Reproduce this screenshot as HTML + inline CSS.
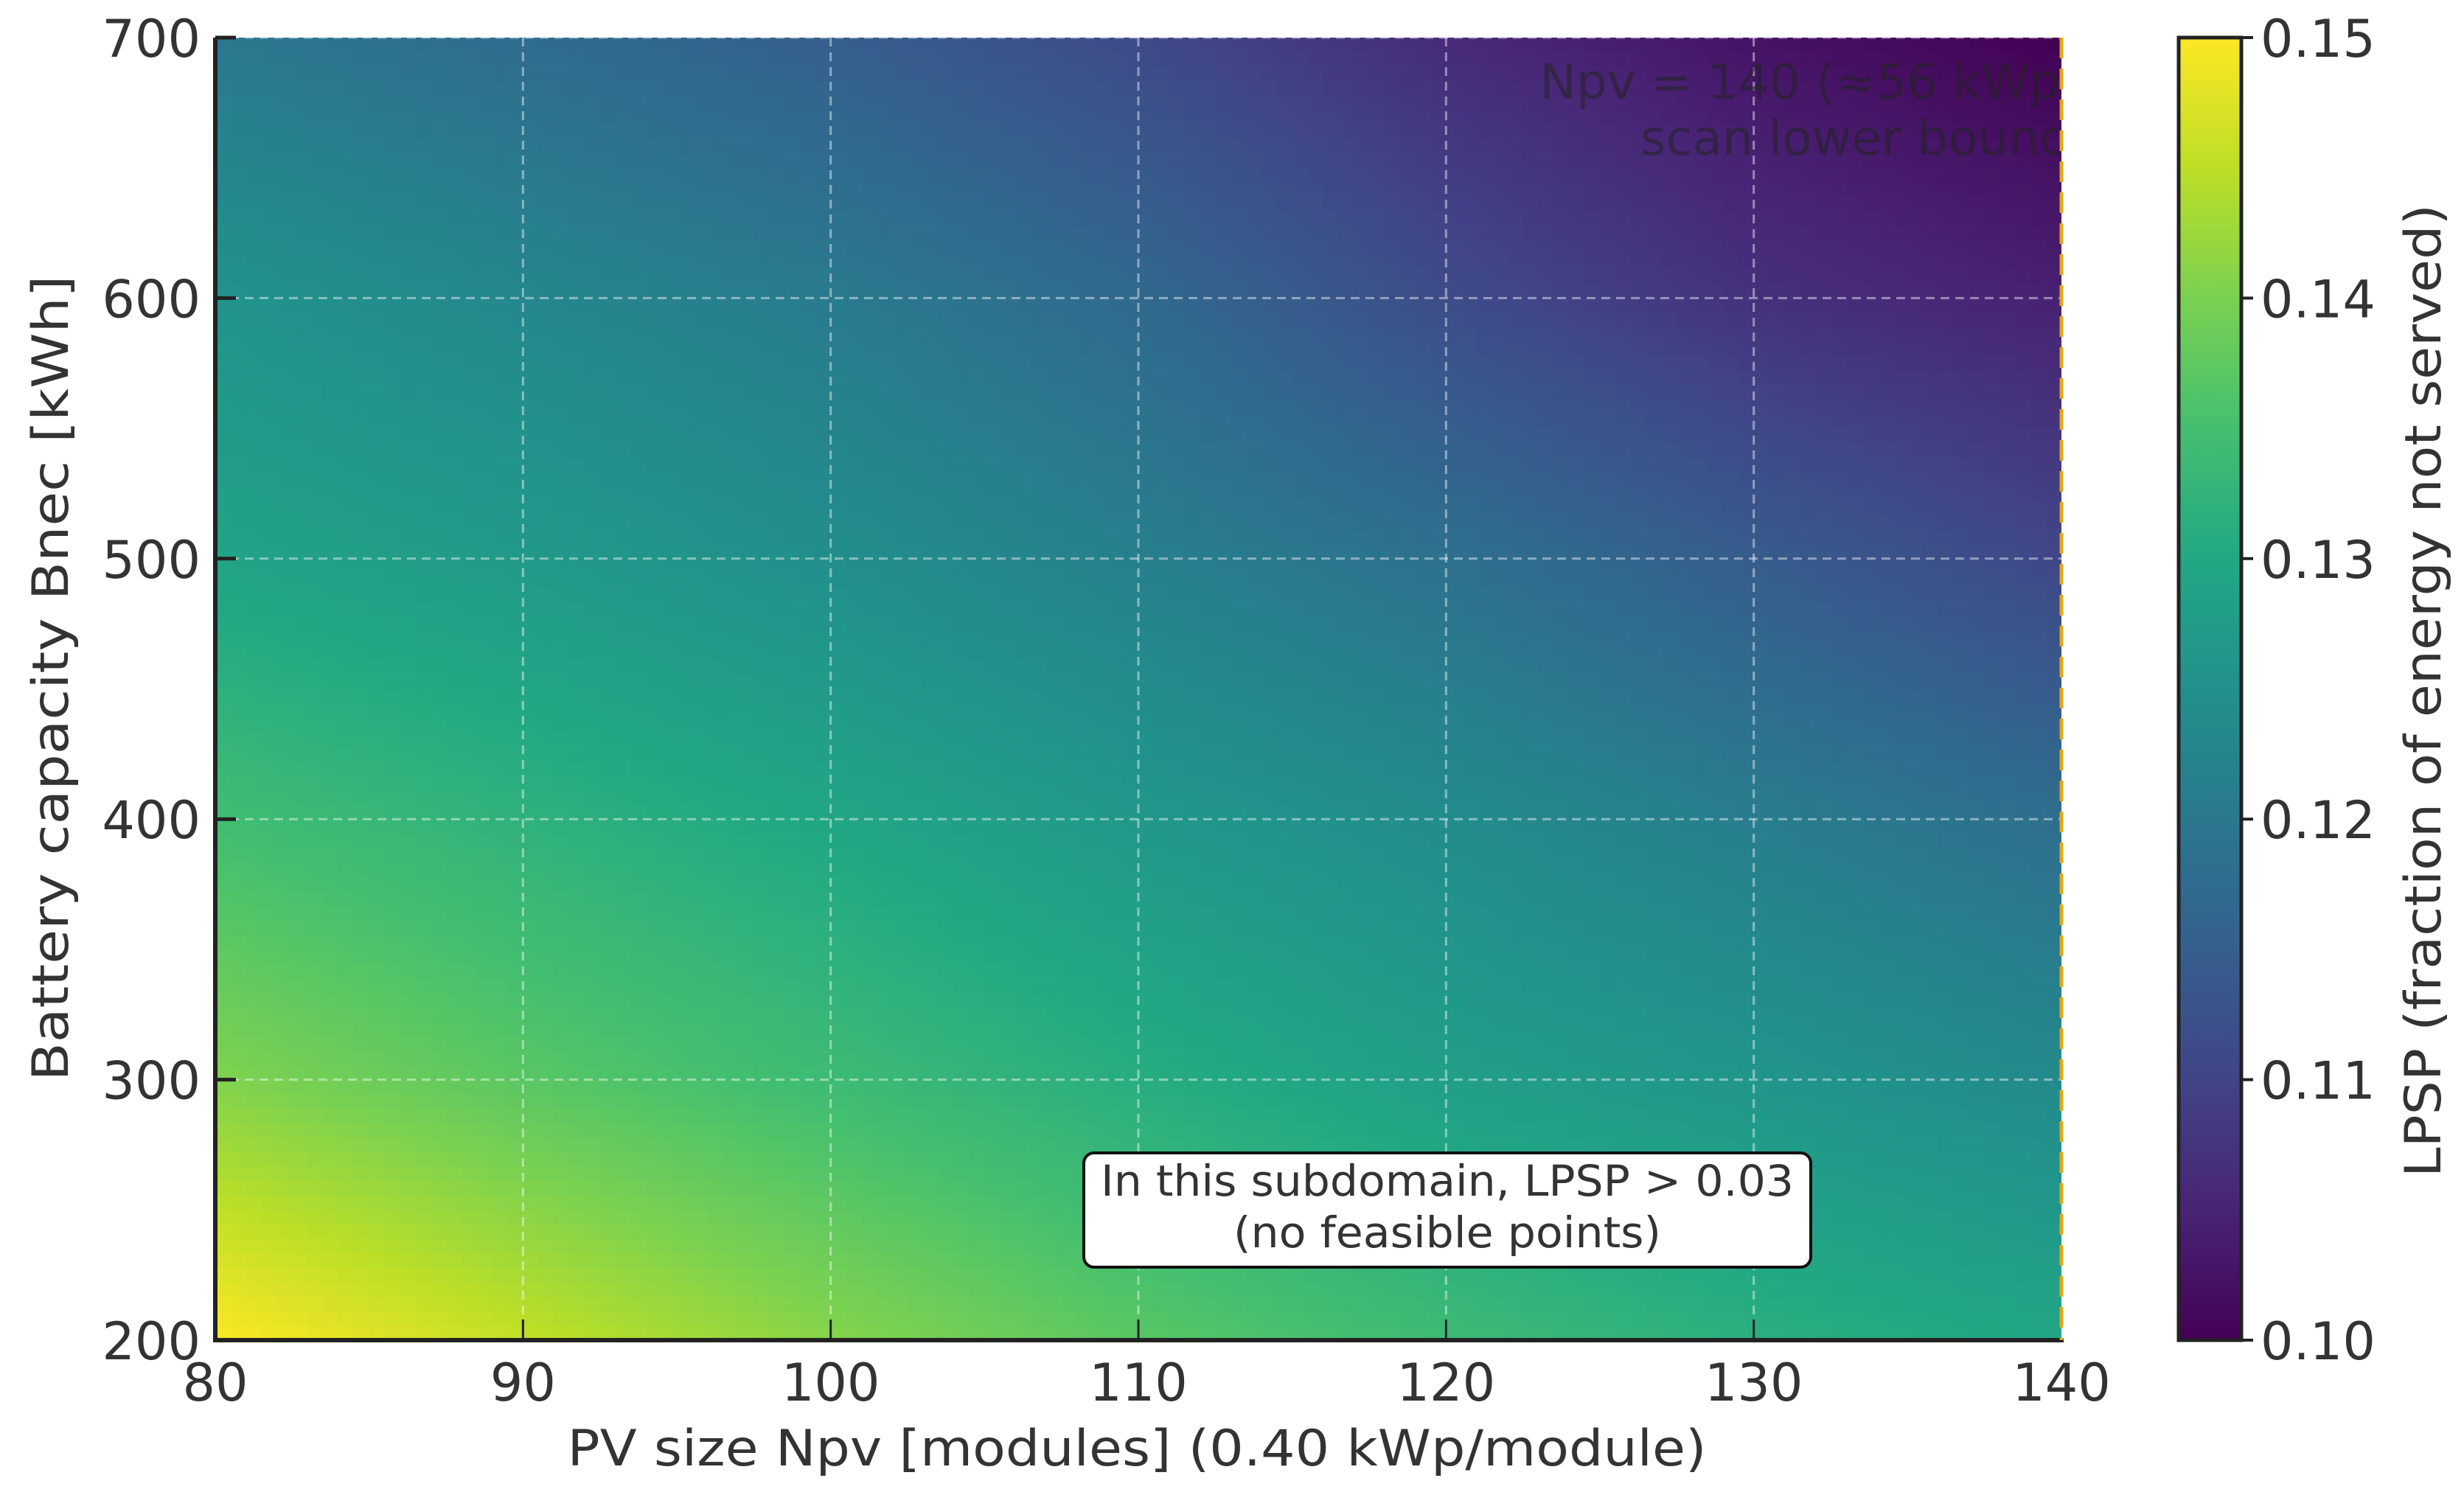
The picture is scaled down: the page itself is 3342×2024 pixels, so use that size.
<!DOCTYPE html>
<html><head><meta charset="utf-8">
<style>
html,body{margin:0;padding:0;background:#fff;}
svg{display:block;font-family:"DejaVu Sans","Liberation Sans",sans-serif;}
</style></head>
<body>
<svg id="chart" width="3342" height="2024" viewBox="0 0 3342 2024" xmlns="http://www.w3.org/2000/svg">
<defs>
<clipPath id="plotclip"><rect x="292" y="51" width="2504" height="1767"/></clipPath>
<linearGradient id="cbgrad" x1="0" y1="1" x2="0" y2="0">
<stop offset="0" stop-color="#440154"/><stop offset="0.1" stop-color="#482475"/><stop offset="0.2" stop-color="#414487"/><stop offset="0.3" stop-color="#355f8d"/><stop offset="0.4" stop-color="#2a788e"/><stop offset="0.5" stop-color="#21918c"/><stop offset="0.6" stop-color="#22a884"/><stop offset="0.7" stop-color="#44bf70"/><stop offset="0.8" stop-color="#7ad151"/><stop offset="0.9" stop-color="#bddf26"/><stop offset="1" stop-color="#fde725"/>
</linearGradient>
</defs>
<g id="heat" clip-path="url(#plotclip)"></g>
<g id="grid"></g>
<g id="axes"></g>
<g clip-path="url(#plotclip)">
<text x="2820" y="134" text-anchor="end" font-size="66" fill="#222" fill-opacity="0.55">Npv = 140 (≈56 kWp)</text>
<text x="2808" y="210" text-anchor="end" font-size="66" fill="#222" fill-opacity="0.55">scan lower bound</text>
</g>
<line x1="2796" y1="51" x2="2796" y2="1818" stroke="#e0a81c" stroke-width="5" stroke-dasharray="28,14"/>
<g>
<rect x="1470" y="1564" width="986" height="155" rx="14" fill="#fff" stroke="#111" stroke-width="4"/>
<text x="1963" y="1622" text-anchor="middle" font-size="58" fill="#333" textLength="940" lengthAdjust="spacingAndGlyphs">In this subdomain, LPSP &gt; 0.03</text>
<text x="1963" y="1692" text-anchor="middle" font-size="58" fill="#333" textLength="580" lengthAdjust="spacingAndGlyphs">(no feasible points)</text>
</g>
<text x="1542" y="1988" text-anchor="middle" font-size="68" fill="#333" textLength="1545" lengthAdjust="spacingAndGlyphs">PV size Npv [modules] (0.40 kWp/module)</text>
<text transform="translate(92,920) rotate(-90)" text-anchor="middle" font-size="68" fill="#333" textLength="1093" lengthAdjust="spacingAndGlyphs">Battery capacity Bnec [kWh]</text>
<g>
<rect x="2955" y="51" width="85" height="1767" fill="url(#cbgrad)" stroke="#222" stroke-width="5"/>
</g>
<g id="cbticks"></g>
<text transform="translate(3310,937) rotate(-90)" text-anchor="middle" font-size="68" fill="#333" textLength="1320" lengthAdjust="spacingAndGlyphs">LPSP (fraction of energy not served)</text>
</svg>
<script>
const npvCategories = [80, 90, 100, 110, 120, 130, 140];
const batteryCategories = [700, 600, 500, 400, 300, 200];
const lpspRow700 = [0.120, 0.1175, 0.115, 0.111, 0.106, 0.1025, 0.100];
const lpspRow600 = [0.1255, 0.123, 0.1205, 0.117, 0.1115, 0.107, 0.1045];
const lpspRow500 = [0.129, 0.127, 0.1245, 0.1215, 0.1185, 0.1145, 0.1105];
const lpspRow400 = [0.1345, 0.132, 0.1295, 0.1265, 0.124, 0.121, 0.118];
const lpspRow300 = [0.1405, 0.137, 0.134, 0.131, 0.128, 0.126, 0.1235];
const lpspRow200 = [0.150, 0.1455, 0.141, 0.137, 0.134, 0.1315, 0.1295];
const lpspRows = [lpspRow700, lpspRow600, lpspRow500, lpspRow400, lpspRow300, lpspRow200];
const xTickLabels = ["80", "90", "100", "110", "120", "130", "140"];
const yTickLabels = ["200", "300", "400", "500", "600", "700"];
const cbTickLabels = ["0.10", "0.11", "0.12", "0.13", "0.14", "0.15"];

const NS = "http://www.w3.org/2000/svg";
const PL = 292, PR = 2796, PT = 51, PB = 1818;
const xMin = 80, xMax = 140, yMin = 200, yMax = 700, vMin = 0.10, vMax = 0.15;
function xScale(v){ return PL + (v - xMin) / (xMax - xMin) * (PR - PL); }
function yScale(v){ return PB - (v - yMin) / (yMax - yMin) * (PB - PT); }
function cbScale(v){ return PB - (v - vMin) / (vMax - vMin) * (PB - PT); }
const vir = [[68,1,84],[72,36,117],[65,68,135],[53,95,141],[42,120,142],[33,145,140],[34,168,132],[68,191,112],[122,209,81],[189,223,38],[253,231,37]];
function viridis(v){
  let t = Math.max(0, Math.min(1, (v - vMin) / (vMax - vMin))) * 10;
  const i = Math.min(9, Math.floor(t)), f = t - i;
  const a = vir[i], b = vir[i+1];
  return "rgb(" + [0,1,2].map(k => Math.round(a[k] + (b[k]-a[k])*f)).join(",") + ")";
}
function sample(x, y){
  let ci = (x - npvCategories[0]) / (npvCategories[1] - npvCategories[0]);
  let ri = (batteryCategories[0] - y) / (batteryCategories[0] - batteryCategories[1]);
  ci = Math.max(0, Math.min(npvCategories.length - 1.0001, ci));
  ri = Math.max(0, Math.min(batteryCategories.length - 1.0001, ri));
  const c0 = Math.floor(ci), r0 = Math.floor(ri), fc = ci - c0, fr = ri - r0;
  const v00 = lpspRows[r0][c0], v01 = lpspRows[r0][c0+1], v10 = lpspRows[r0+1][c0], v11 = lpspRows[r0+1][c0+1];
  return (v00*(1-fc) + v01*fc)*(1-fr) + (v10*(1-fc) + v11*fc)*fr;
}
const heat = document.getElementById("heat");
const NX = 120, NY = 90;
for (let j = 0; j < NY; j++) {
  for (let i = 0; i < NX; i++) {
    const x0 = xMin + (xMax - xMin) * i / NX, x1 = xMin + (xMax - xMin) * (i+1) / NX;
    const y1 = yMax - (yMax - yMin) * j / NY, y0 = yMax - (yMax - yMin) * (j+1) / NY;
    const v = sample((x0 + x1) / 2, (y0 + y1) / 2);
    const r = document.createElementNS(NS, "rect");
    r.setAttribute("x", xScale(x0).toFixed(1));
    r.setAttribute("y", yScale(y1).toFixed(1));
    r.setAttribute("width", (xScale(x1) - xScale(x0) + 1).toFixed(1));
    r.setAttribute("height", (yScale(y0) - yScale(y1) + 1).toFixed(1));
    r.setAttribute("fill", viridis(v));
    
    
    heat.appendChild(r);
  }
}
const grid = document.getElementById("grid");
const axes = document.getElementById("axes");
function mk(parent, tag, attrs, text){
  const e = document.createElementNS(NS, tag);
  for (const k in attrs) e.setAttribute(k, attrs[k]);
  if (text !== undefined) e.textContent = text;
  parent.appendChild(e);
  return e;
}
xTickLabels.forEach(lbl => {
  const v = parseFloat(lbl), x = xScale(v);
  if (v > xMin && v < xMax) {
    const g = mk(grid, "line", {x1:x, y1:PT, x2:x, y2:PB, stroke:"#ffffff", "stroke-opacity":"0.45", "stroke-width":"3", "stroke-dasharray":"12,8"});
    
    
    const tk = mk(axes, "line", {x1:x, y1:PB, x2:x, y2:PB-28, stroke:"#222", "stroke-width":"3"});
    
    
  }
  const t = mk(axes, "text", {x:x, y:1900, "text-anchor":"middle", "font-size":"70", fill:"#333"}, lbl);
  
  
});
yTickLabels.forEach(lbl => {
  const v = parseFloat(lbl), y = yScale(v);
  if (v > yMin) {
    const g = mk(grid, "line", {x1:PL, y1:y, x2:PR, y2:y, stroke:"#ffffff", "stroke-opacity":"0.45", "stroke-width":"3", "stroke-dasharray":"12,8"});
    
    
    const tk = mk(axes, "line", {x1:PL, y1:y, x2:PL+28, y2:y, stroke:"#222", "stroke-width":"5"});
    
    
  }
  const t = mk(axes, "text", {x:272, y:y+26, "text-anchor":"end", "font-size":"70", fill:"#333"}, lbl);
  
  
});
const sp1 = mk(axes, "line", {x1:PL, y1:PT, x2:PL, y2:PB+3, stroke:"#222", "stroke-width":"6"});


const sp2 = mk(axes, "line", {x1:PL, y1:PB, x2:PR+3, y2:PB, stroke:"#222", "stroke-width":"6"});


const cbt = document.getElementById("cbticks");
cbTickLabels.forEach(lbl => {
  const y = cbScale(parseFloat(lbl));
  const tk = mk(cbt, "line", {x1:3040, y1:y, x2:3056, y2:y, stroke:"#222", "stroke-width":"4"});
  
  
  const t = mk(cbt, "text", {x:3066, y:y+26, "font-size":"70", fill:"#333"}, lbl);
  
  
});
</script>
</body></html>
